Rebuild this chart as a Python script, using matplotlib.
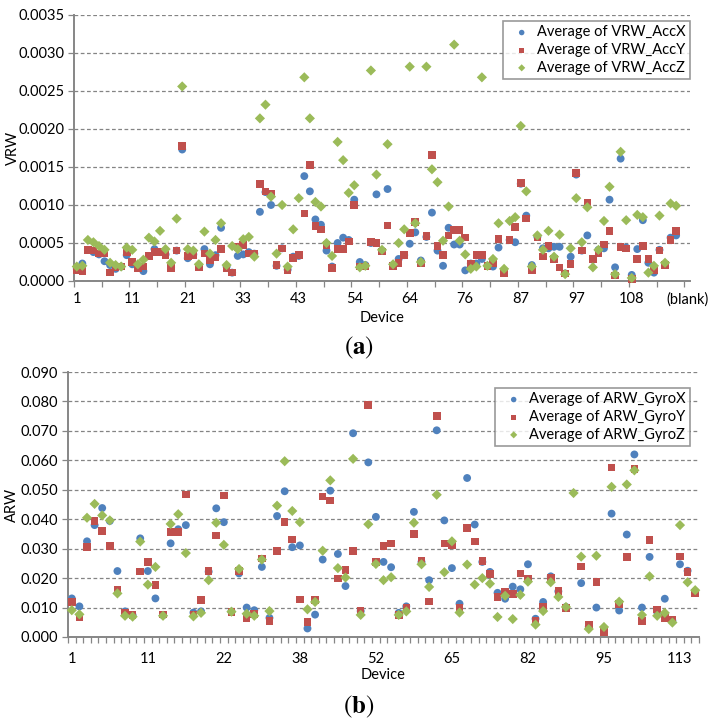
import numpy as np
import matplotlib
matplotlib.use("Agg")
import matplotlib.pyplot as plt

plt.rcParams['font.family'] = ['Lato', 'DejaVu Sans']
plt.rcParams['mathtext.fontset'] = 'stix'

BLUE = '#4F81BD'
RED = '#C0504D'
GREEN = '#9BBB59'
GRAY = '#868686'

# (a) VRW per device, 111 categories, the last ones are empty / "(blank)"
vrw_x = [0.00016, 0.00023, 0.00041, 0.00038, 0.00035, 0.00026, 0.00021, 0.00016, 0.00019, 0.00034,
         0.00022, 0.00018, 0.00013, 0.00033, 0.00042, 0.00038, 0.00035, 0.00018, 0.00040, 0.00173,
         0.00030, 0.00035, 0.00020, 0.00042, 0.00022, 0.00034, 0.00070, 0.00019, 0.00011, 0.00033,
         0.00035, 0.00038, 0.00036, 0.00091, 0.00117, 0.00100, 0.00020, 0.00043, 0.00015, 0.00032,
         0.00033, 0.00138, 0.00118, 0.00081, 0.00074, 0.00040, 0.00019, 0.00050, 0.00057, 0.00054,
         0.00107, 0.00025, 0.00021, 0.00050, 0.00114, 0.00040, 0.00121, 0.00021, 0.00029, 0.00034,
         0.00049, 0.00064, 0.00027, 0.00058, 0.00090, 0.00040, 0.00020, 0.00070, 0.00048, 0.00048,
         0.00014, 0.00023, 0.00023, 0.00029, 0.00020, 0.00019, 0.00044, 0.00012, 0.00054, 0.00051,
         0.00128, 0.00086, 0.00021, 0.00058, 0.00043, 0.00043, 0.00045, 0.00045, 0.00010, 0.00032,
         0.00140, 0.00040, 0.00060, 0.00028, 0.00041, 0.00043, 0.00107, 0.00018, 0.00161, 0.00044,
         0.00008, 0.00042, 0.00080, 0.00024, 0.00011, 0.00041, 0.00022, 0.00057, 0.00060, np.nan,
         np.nan]
vrw_y = [0.00014, 0.00013, 0.00041, 0.00040, 0.00036, 0.00036, 0.00011, 0.00018, 0.00019, 0.00038,
         0.00025, 0.00017, 0.00019, 0.00033, 0.00038, 0.00038, 0.00034, 0.00017, 0.00040, 0.00178,
         0.00033, 0.00034, 0.00018, 0.00036, 0.00028, 0.00031, 0.00042, 0.00017, 0.00011, 0.00045,
         0.00047, 0.00036, 0.00036, 0.00128, 0.00118, 0.00115, 0.00021, 0.00043, 0.00014, 0.00030,
         0.00034, 0.00089, 0.00153, 0.00072, 0.00068, 0.00047, 0.00017, 0.00042, 0.00042, 0.00052,
         0.00100, 0.00019, 0.00019, 0.00051, 0.00050, 0.00039, 0.00073, 0.00020, 0.00024, 0.00034,
         0.00063, 0.00078, 0.00023, 0.00059, 0.00166, 0.00046, 0.00034, 0.00060, 0.00067, 0.00067,
         0.00057, 0.00022, 0.00034, 0.00034, 0.00020, 0.00024, 0.00055, 0.00010, 0.00054, 0.00071,
         0.00129, 0.00082, 0.00014, 0.00057, 0.00032, 0.00046, 0.00029, 0.00018, 0.00010, 0.00022,
         0.00142, 0.00040, 0.00103, 0.00029, 0.00036, 0.00048, 0.00066, 0.00007, 0.00045, 0.00043,
         0.00003, 0.00029, 0.00046, 0.00029, 0.00014, 0.00040, 0.00021, 0.00054, 0.00066, np.nan,
         np.nan]
vrw_z = [0.00019, 0.00020, 0.00054, 0.00051, 0.00046, 0.00041, 0.00024, 0.00021, 0.00019, 0.00044,
         0.00041, 0.00022, 0.00028, 0.00057, 0.00052, 0.00066, 0.00042, 0.00024, 0.00082, 0.00256,
         0.00042, 0.00040, 0.00022, 0.00065, 0.00036, 0.00054, 0.00076, 0.00021, 0.00046, 0.00042,
         0.00055, 0.00058, 0.00032, 0.00214, 0.00232, 0.00111, 0.00036, 0.00100, 0.00019, 0.00068,
         0.00109, 0.00268, 0.00214, 0.00104, 0.00098, 0.00050, 0.00033, 0.00183, 0.00159, 0.00116,
         0.00126, 0.00018, 0.00020, 0.00277, 0.00140, 0.00041, 0.00180, 0.00022, 0.00050, 0.00068,
         0.00282, 0.00076, 0.00025, 0.00282, 0.00147, 0.00130, 0.00053, 0.00098, 0.00311, 0.00053,
         0.00035, 0.00016, 0.00019, 0.00268, 0.00020, 0.00029, 0.00076, 0.00016, 0.00079, 0.00084,
         0.00204, 0.00118, 0.00019, 0.00060, 0.00041, 0.00066, 0.00032, 0.00061, 0.00009, 0.00043,
         0.00109, 0.00051, 0.00097, 0.00018, 0.00041, 0.00079, 0.00124, 0.00009, 0.00170, 0.00080,
         0.00004, 0.00087, 0.00084, 0.00011, 0.00020, 0.00086, 0.00024, 0.00102, 0.00099, np.nan,
         np.nan]
top_labels = ['1', '11', '21', '33', '43', '54', '64', '76', '87', '97', '108', '(blank)']

# (b) ARW per device, 83 categories
arw_x = [0.0131, 0.0104, 0.0325, 0.0380, 0.0438, 0.0394, 0.0224, 0.0087, 0.0074, 0.0335,
         0.0224, 0.0131, 0.0074, 0.0318, 0.0366, 0.0380, 0.0083, 0.0087, 0.0222, 0.0437,
         0.0390, 0.0086, 0.0216, 0.0100, 0.0091, 0.0238, 0.0065, 0.0411, 0.0495, 0.0305,
         0.0311, 0.0029, 0.0076, 0.0263, 0.0497, 0.0282, 0.0173, 0.0692, 0.0088, 0.0593,
         0.0408, 0.0255, 0.0237, 0.0082, 0.0104, 0.0425, 0.0255, 0.0193, 0.0702, 0.0396,
         0.0234, 0.0113, 0.0540, 0.0382, 0.0255, 0.0221, 0.0150, 0.0130, 0.0171, 0.0162,
         0.0247, 0.0062, 0.0119, 0.0206, 0.0155, 0.0102, np.nan, 0.0183, 0.0035, 0.0100,
         0.0025, 0.0419, 0.0090, 0.0348, 0.0620, 0.0100, 0.0272, 0.0085, 0.0130, 0.0055,
         0.0247, 0.0225, 0.0155]
arw_y = [0.0118, 0.0068, 0.0306, 0.0394, 0.0361, 0.0310, 0.0161, 0.0082, 0.0075, 0.0222,
         0.0254, 0.0176, 0.0076, 0.0357, 0.0356, 0.0484, 0.0076, 0.0125, 0.0224, 0.0345,
         0.0480, 0.0085, 0.0225, 0.0065, 0.0079, 0.0266, 0.0055, 0.0293, 0.0390, 0.0331,
         0.0127, 0.0051, 0.0126, 0.0477, 0.0463, 0.0199, 0.0228, 0.0292, 0.0090, 0.0787,
         0.0254, 0.0310, 0.0318, 0.0075, 0.0100, 0.0349, 0.0258, 0.0121, 0.0750, 0.0317,
         0.0311, 0.0100, 0.0371, 0.0324, 0.0258, 0.0214, 0.0135, 0.0152, 0.0147, 0.0216,
         0.0199, 0.0055, 0.0102, 0.0200, 0.0157, 0.0099, np.nan, 0.0240, 0.0040, 0.0187,
         0.0018, 0.0576, 0.0113, 0.0271, 0.0570, 0.0054, 0.0330, 0.0093, 0.0065, 0.0060,
         0.0274, 0.0220, 0.0150]
arw_z = [0.0091, 0.0077, 0.0405, 0.0452, 0.0413, 0.0396, 0.0148, 0.0072, 0.0069, 0.0324,
         0.0178, 0.0238, 0.0072, 0.0384, 0.0417, 0.0285, 0.0070, 0.0082, 0.0193, 0.0388,
         0.0313, 0.0086, 0.0231, 0.0079, 0.0072, 0.0263, 0.0088, 0.0446, 0.0597, 0.0428,
         0.0390, 0.0094, 0.0119, 0.0293, 0.0532, 0.0234, 0.0202, 0.0605, 0.0075, 0.0383,
         0.0248, 0.0193, 0.0203, 0.0075, 0.0087, 0.0388, 0.0247, 0.0170, 0.0483, 0.0220,
         0.0325, 0.0083, 0.0246, 0.0178, 0.0200, 0.0181, 0.0068, 0.0140, 0.0061, 0.0143,
         0.0188, 0.0042, 0.0088, 0.0186, 0.0136, 0.0102, 0.0489, 0.0273, 0.0027, 0.0276,
         0.0034, 0.0510, 0.0120, 0.0518, 0.0566, 0.0075, 0.0206, 0.0072, 0.0082, 0.0049,
         0.0380, 0.0186, 0.0159]
bottom_labels = ['1', '11', '22', '38', '52', '65', '82', '95', '113']


def category_plot(ax, series, names, labels, tick_every, yticks, fmt, ylabel, pad):
    n = len(series[0])
    x = np.arange(1, n + 1)
    markers = ['o', 's', 'D']
    sizes = [32, 30, 27]
    colors = [BLUE, RED, GREEN]
    for i in range(3):
        ax.scatter(x, series[i], s=sizes[i], marker=markers[i], color=colors[i],
                   edgecolors='none', label=names[i], zorder=3 + i, clip_on=False)

    ax.set_xlim(0.5, n + 0.5)
    ax.set_ylim(yticks[0], yticks[-1])

    # labels every 10th category, tick marks on category borders
    ax.set_xticks(np.arange(1, n + 1, 10)[:len(labels)])
    ax.set_xticklabels(labels)
    ax.set_xticks(np.arange(0.5, n + 0.6, tick_every), minor=True)
    ax.tick_params(axis='x', which='major', length=0, pad=pad, labelsize=10.5)
    ax.tick_params(axis='x', which='minor', length=4, width=0.9, color=GRAY, direction='out')

    ax.set_yticks(yticks)
    ax.set_yticklabels([fmt % v for v in yticks])
    ax.tick_params(axis='y', length=4, width=0.9, color=GRAY, direction='out', labelsize=10.5, pad=3)

    ax.yaxis.grid(True, linestyle=(0, (3, 2)), color='#848484', linewidth=0.9)
    ax.set_axisbelow(True)
    for s in ['top', 'right']:
        ax.spines[s].set_visible(False)
    for s in ['left', 'bottom']:
        ax.spines[s].set_color(GRAY)
        ax.spines[s].set_linewidth(1.4)

    ax.set_ylabel(ylabel, fontsize=10.5)
    ax.set_xlabel('Device', fontsize=10.5)


fig = plt.figure(figsize=(7.18, 7.23), dpi=100)

ax1 = fig.add_axes([74 / 718, 1 - 281 / 723, 616 / 718, 266 / 723])
category_plot(ax1, [vrw_x, vrw_y, vrw_z],
              ['Average of VRW_AccX', 'Average of VRW_AccY', 'Average of VRW_AccZ'],
              top_labels, 5, np.arange(0, 0.00351, 0.0005), '%.4f', 'VRW', 8)
ax1.yaxis.set_label_coords(-0.087, 0.5)
ax1.xaxis.set_label_coords(0.5, -0.112)
leg1 = ax1.legend(loc='upper right', bbox_to_anchor=(1.0, 1 - 6 / 266), fontsize=10.5,
                  frameon=True, fancybox=False, borderpad=0.3, labelspacing=0.25,
                  handletextpad=0.05, markerscale=0.7, borderaxespad=0)
leg1.get_frame().set_edgecolor('#808080')
leg1.get_frame().set_linewidth(1.2)

ax2 = fig.add_axes([68 / 718, 1 - 637 / 723, 631 / 718, 265 / 723])
category_plot(ax2, [arw_x, arw_y, arw_z],
              ['Average of ARW_GyroX', 'Average of ARW_GyroY', 'Average of ARW_GyroZ'],
              bottom_labels, 1, np.arange(0, 0.0901, 0.01), '%.3f', 'ARW', 11)
ax2.yaxis.set_label_coords(-0.077, 0.5)
ax2.xaxis.set_label_coords(0.5, -0.118)
leg2 = ax2.legend(loc='upper right', bbox_to_anchor=((690 - 68) / 631, 1 - 16 / 265), fontsize=10.5,
                  frameon=True, fancybox=False, borderpad=0.3, labelspacing=0.25,
                  handletextpad=0.05, markerscale=0.7, borderaxespad=0)
leg2.get_frame().set_edgecolor('#808080')
leg2.get_frame().set_linewidth(1.2)

fig.text(359 / 718, 1 - 348 / 723, r'$(\mathbf{a})$', ha='center', va='center', fontsize=18)
fig.text(359 / 718, 1 - 707 / 723, r'$(\mathbf{b})$', ha='center', va='center', fontsize=18)

fig.savefig('out.png', dpi=100)
